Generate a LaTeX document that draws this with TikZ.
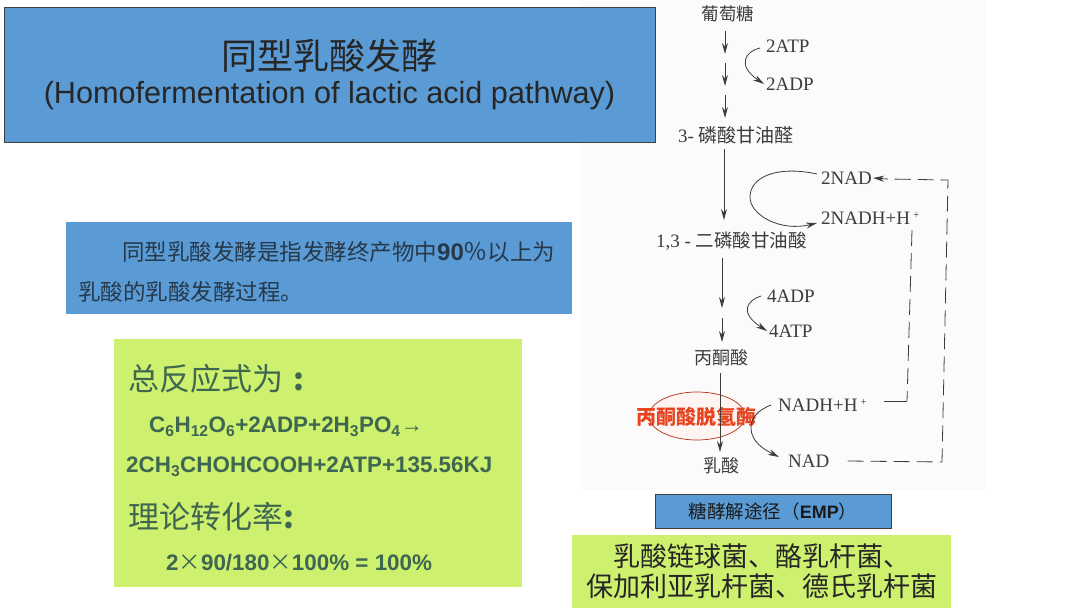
\documentclass[tikz,border=0pt]{standalone}
\usepackage{fontspec}
\setmainfont{Liberation Sans}
\newfontfamily\cjk{Noto Sans CJK SC}
\newfontfamily\timesf{Liberation Serif}
\usetikzlibrary{arrows.meta,shapes.geometric}
\definecolor{panelblue}{HTML}{5B9BD5}
\definecolor{panelgreen}{HTML}{CDF06E}
\definecolor{greentext}{HTML}{3F6650}
\definecolor{inktext}{HTML}{3C3C3C}
\definecolor{bluetext}{HTML}{26384A}
\definecolor{enzymered}{HTML}{E8431F}
\newcommand{\fsz}[1]{\fontsize{#1}{#1}\selectfont}
\tikzset{
  bluebox/.style={draw=black!75,fill=panelblue,line width=0.8pt,inner sep=0pt},
  greenbox/.style={fill=panelgreen,inner sep=0pt},
  compound/.style={text=inktext,inner sep=0pt,font=\timesf\fsz{19}},
  flow/.style={draw=inktext,line width=0.9pt,-{Stealth[length=11pt,width=6pt]}},
  side/.style={draw=inktext,line width=0.8pt,-{Stealth[length=11pt,width=6pt]}},
  back/.style={draw=inktext,line width=0.8pt,dash pattern=on 16pt off 7pt},
  bluetxt/.style={text=bluetext,anchor=west,inner sep=0pt,font=\cjk\fsz{22.5}},
  greentxt/.style={text=greentext,anchor=west,inner sep=0pt},
  formula/.style={greentxt,font=\bfseries\fsz{22.4}},
  heading/.style={greentxt,font=\cjk\fsz{31}}
}
\begin{document}
\begin{tikzpicture}[x=1pt,y=-1pt]
\useasboundingbox (0,0) rectangle (1080,608);
\fill[black!1.5] (580,0) rectangle (985,490);
% left panels
\node[bluebox,minimum width=651pt,minimum height=135pt,align=center,text=black!85] (title) at (329.5,74.5)
  {{\cjk\fsz{36}同型乳酸发酵}\\[7pt]{\fsz{30.6}(Homofermentation of lactic acid pathway)}};
\node[fill=panelblue,inner sep=0pt,minimum width=506pt,minimum height=92pt] (defbox) at (319,268) {};
\node[bluetxt] (defa) at (122,252) {同型乳酸发酵是指发酵终产物中{\rmfamily\bfseries\fsz{24}90}{\fsz{24}％}以上为};
\node[bluetxt] (defb) at (78,292) {乳酸的乳酸发酵过程。};
\node[greenbox,minimum width=408pt,minimum height=248pt] (eqbox) at (318,463) {};
\node[heading] (eqa) at (128,379) {总反应式为\,\,\textbf{:}};
\node[formula] (eqb) at (149,427) {C\textsubscript{6}H\textsubscript{12}O\textsubscript{6}+2ADP+2H\textsubscript{3}PO\textsubscript{4}{\mdseries→}};
\node[formula] (eqc) at (126,467) {2CH\textsubscript{3}CHOHCOOH+2ATP+135.56KJ};
\node[heading] (eqd) at (128,517) {理论转化率\textbf{:}};
\node[formula] (eqe) at (166,563) {2{\cjk\mdseries ×}90/180{\cjk\mdseries ×}100\% = 100\%};
% pathway
\node[compound,font=\cjk\fsz{17.5}] (glu) at (728,14) {葡萄糖};
\node[compound,anchor=west] (atpa) at (766,46) {2ATP};
\node[compound,anchor=west] (adpa) at (766,84) {2ADP};
\node[compound,anchor=west] (gap) at (678,135) {3- {\cjk\fsz{19}磷酸甘油醛}};
\node[compound,anchor=west] (nad) at (821,178) {2NAD};
\node[compound,anchor=west] (nadh) at (821,218) {2NADH+H\,\raisebox{6pt}{\fsz{11}+}};
\node[compound,anchor=west] (bpg) at (656,241) {1,3 - {\cjk\fsz{18.5}二磷酸甘油酸}};
\node[compound,anchor=west] (adpb) at (767,296) {4ADP};
\node[compound,anchor=west] (atpb) at (769,331) {4ATP};
\node[compound,font=\cjk\fsz{18}] (pyr) at (721,358) {丙酮酸};
\node[compound,anchor=west] (nadhb) at (778,405) {NADH+H\,\raisebox{6pt}{\fsz{11}+}};
\node[compound,anchor=west] (nadb) at (788,461) {NAD};
\node[compound,font=\cjk\fsz{18}] (lac) at (721,466) {乳酸};
\node[draw=enzymered!75!black,line width=0.7pt,fill=enzymered!6,ellipse,minimum width=96pt,minimum height=48pt,inner sep=0pt] (ell) at (697,416) {};
\node[text=enzymered,inner sep=0pt,font=\cjk\bfseries\fsz{20}] (ldh) at (696,417) {丙酮酸脱氢酶};
\coordinate (ga) at (725,31);
\coordinate (gb) at (725,54);
\coordinate (gc) at (725,63);
\coordinate (gd) at (725,86);
\coordinate (ge) at (725,95);
\coordinate (gf) at (725,118);
\coordinate (gg) at (724,149);
\coordinate (gh) at (724,220);
\coordinate (gi) at (722,258);
\coordinate (gj) at (722,308);
\coordinate (gk) at (722,318);
\coordinate (gl) at (722,342);
\coordinate (gm) at (720,373);
\coordinate (gn) at (720,452);
\draw[flow] (ga) -- (gb);
\draw[flow] (gc) -- (gd);
\draw[flow] (ge) -- (gf);
\draw[flow] (gg) -- (gh);
\draw[flow] (gi) -- (gj);
\draw[flow] (gk) -- (gl);
\draw[flow] (gm) -- (gn);
\draw[side] ([shift={(-6,2)}]atpa.west) .. controls (746,51) and (736,65) .. ([xshift=-2pt]adpa.west);
\draw[side] ([shift={(-4,-4)}]nad.west) .. controls (775,165) and (750,178) .. (750,197) .. controls (750,215) and (780,232) .. ([shift={(-4,5)}]nadh.west);
\draw[side] ([xshift=-6pt]adpb.west) .. controls (748,300) and (738,312) .. ([xshift=-2pt]atpb.west);
\draw[side] ([xshift=-7pt]nadhb.west) .. controls (758,410) and (751,418) .. (751,428) .. controls (751,442) and (765,450) .. ([shift={(-9,-4)}]nadb.west);
% return lines
\coordinate (ra) at (948,180);
\coordinate (rb) at (942,462);
\coordinate (rc) at (912,230);
\coordinate (rd) at (907,401);
\coordinate (re) at (884,401);
\coordinate (rf) at (888,179);
\draw[back] ([xshift=18pt]nadb.east) -- (rb) -- (ra) -- (rf);
\draw[side] (rf) -- ([xshift=1pt]nad.east);
\draw[back] (rc) -- (rd);
\draw[draw=inktext,line width=0.8pt] (rd) -- (re);
% bottom panels
\node[bluebox,minimum width=236pt,minimum height=34pt,font=\cjk\fsz{18.5},text=black!90] (emp) at (773,511) {糖酵解途径（{\rmfamily\bfseries\fsz{18}EMP}）};
\node[greenbox,minimum width=379pt,minimum height=73pt,align=center,font=\cjk\fsz{27},text=black!85] (strain) at (761.5,571.5)
  {乳酸链球菌、酪乳杆菌、\\[3pt]保加利亚乳杆菌、德氏乳杆菌};
\end{tikzpicture}
\end{document}
